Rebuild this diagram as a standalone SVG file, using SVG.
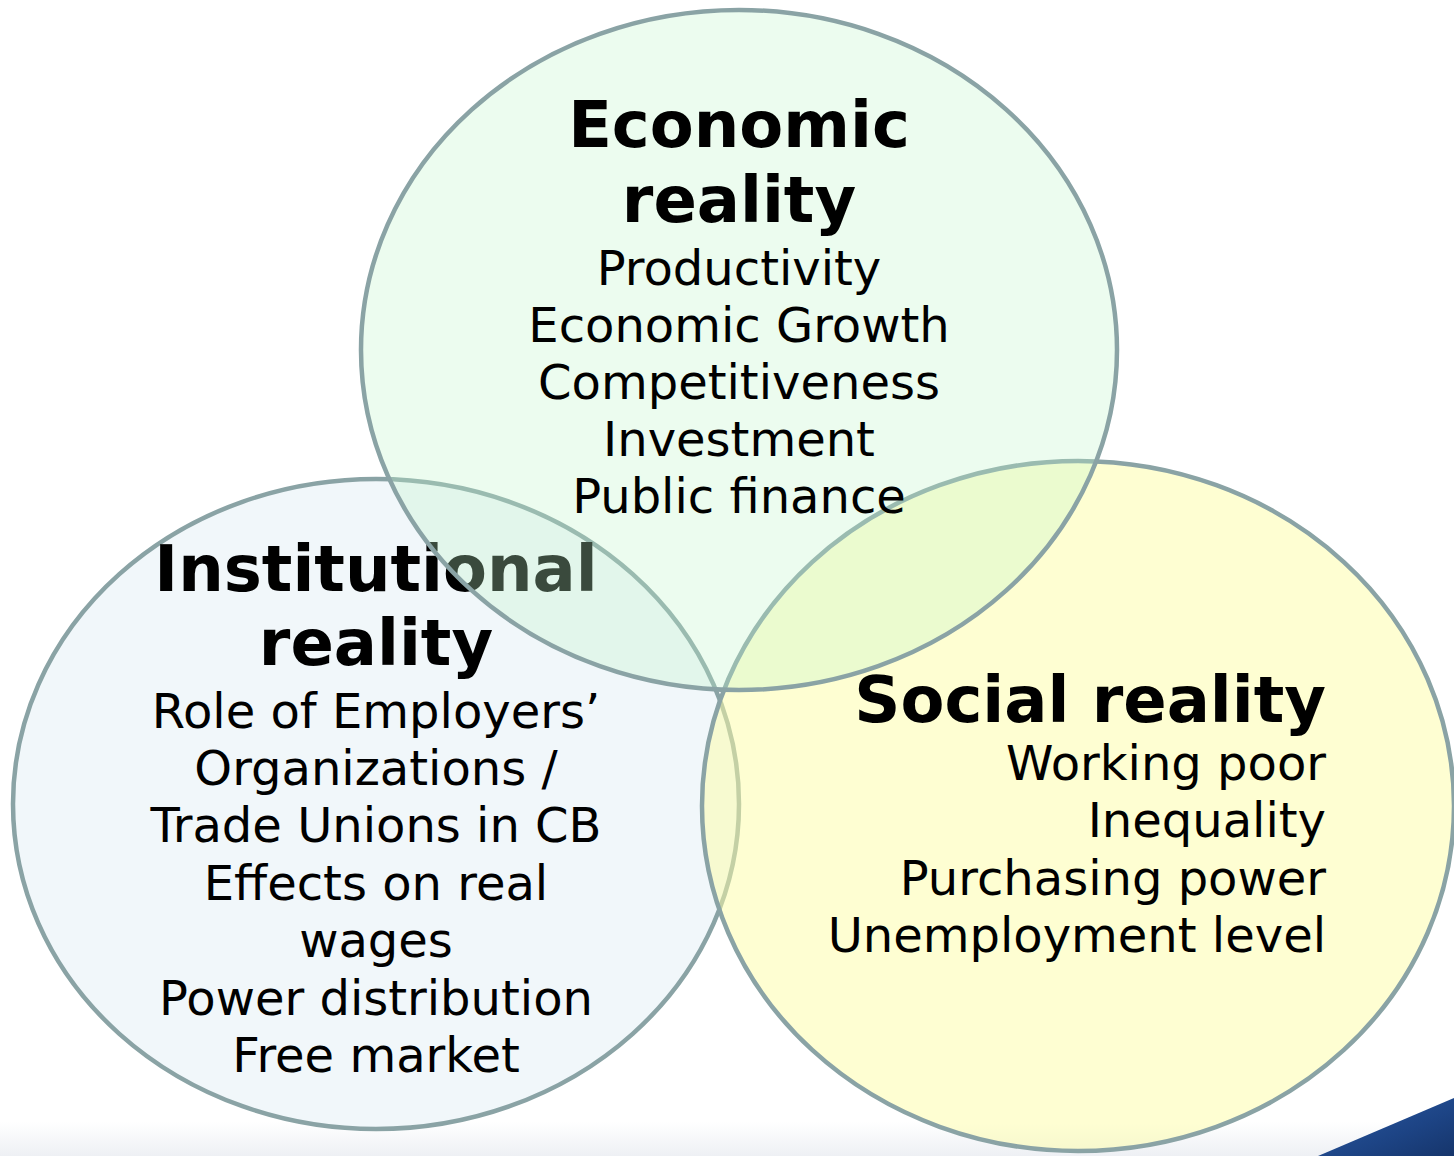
<svg xmlns="http://www.w3.org/2000/svg" width="1454" height="1156" viewBox="0 0 1454 1156">
<defs>
<style>
.ring{stroke:#8aa3a5;stroke-width:4.5}
.t{font-family:"DejaVu Sans",Verdana,sans-serif;fill:#000}
.h{font-size:64px;font-weight:bold}
.b{font-size:48px}
</style>
<linearGradient id="floor" x1="0" y1="0" x2="0" y2="1">
<stop offset="0" stop-color="#ffffff"/>
<stop offset="1" stop-color="#eef0f4"/>
</linearGradient>
<linearGradient id="blue" x1="0" y1="0" x2="1" y2="1">
<stop offset="0" stop-color="#2b5aa3"/>
<stop offset="0.6" stop-color="#1d4485"/>
<stop offset="1" stop-color="#16356b"/>
</linearGradient>
</defs>
<rect width="1454" height="1156" fill="#ffffff"/>
<rect x="0" y="1122" width="1454" height="34" fill="url(#floor)"/>
<polygon points="1318,1156 1454,1098 1454,1156" fill="url(#blue)"/>
<g id="institutional">
<ellipse class="ring" cx="376" cy="804" rx="363" ry="325" fill="#f1f7fa"/>
<text class="t h" text-anchor="middle" x="376" y="591">Institutional</text>
<text class="t h" text-anchor="middle" x="376" y="665">reality</text>
<text class="t b" text-anchor="middle" x="376" y="728">Role of Employers’</text>
<text class="t b" text-anchor="middle" x="376" y="785">Organizations /</text>
<text class="t b" text-anchor="middle" x="376" y="842">Trade Unions in CB</text>
<text class="t b" text-anchor="middle" x="376" y="900">Effects on real</text>
<text class="t b" text-anchor="middle" x="376" y="957">wages</text>
<text class="t b" text-anchor="middle" x="376" y="1015">Power distribution</text>
<text class="t b" text-anchor="middle" x="376" y="1072">Free market</text>
</g>
<g id="social">
<ellipse class="ring" cx="1078" cy="806" rx="376" ry="345" fill="rgb(253,253,165)" fill-opacity="0.5"/>
<text class="t h" text-anchor="end" x="1326" y="722">Social reality</text>
<text class="t b" text-anchor="end" x="1326" y="780">Working poor</text>
<text class="t b" text-anchor="end" x="1326" y="837">Inequality</text>
<text class="t b" text-anchor="end" x="1326" y="895">Purchasing power</text>
<text class="t b" text-anchor="end" x="1326" y="952">Unemployment level</text>
</g>
<g id="economic">
<ellipse class="ring" cx="739" cy="350" rx="378" ry="340" fill="rgb(192,245,202)" fill-opacity="0.3"/>
<text class="t h" text-anchor="middle" x="739" y="147">Economic</text>
<text class="t h" text-anchor="middle" x="739" y="222">reality</text>
<text class="t b" text-anchor="middle" x="739" y="285">Productivity</text>
<text class="t b" text-anchor="middle" x="739" y="342">Economic Growth</text>
<text class="t b" text-anchor="middle" x="739" y="399">Competitiveness</text>
<text class="t b" text-anchor="middle" x="739" y="456">Investment</text>
<text class="t b" text-anchor="middle" x="739" y="513">Public finance</text>
</g>
<g id="connectors"></g>
</svg>
